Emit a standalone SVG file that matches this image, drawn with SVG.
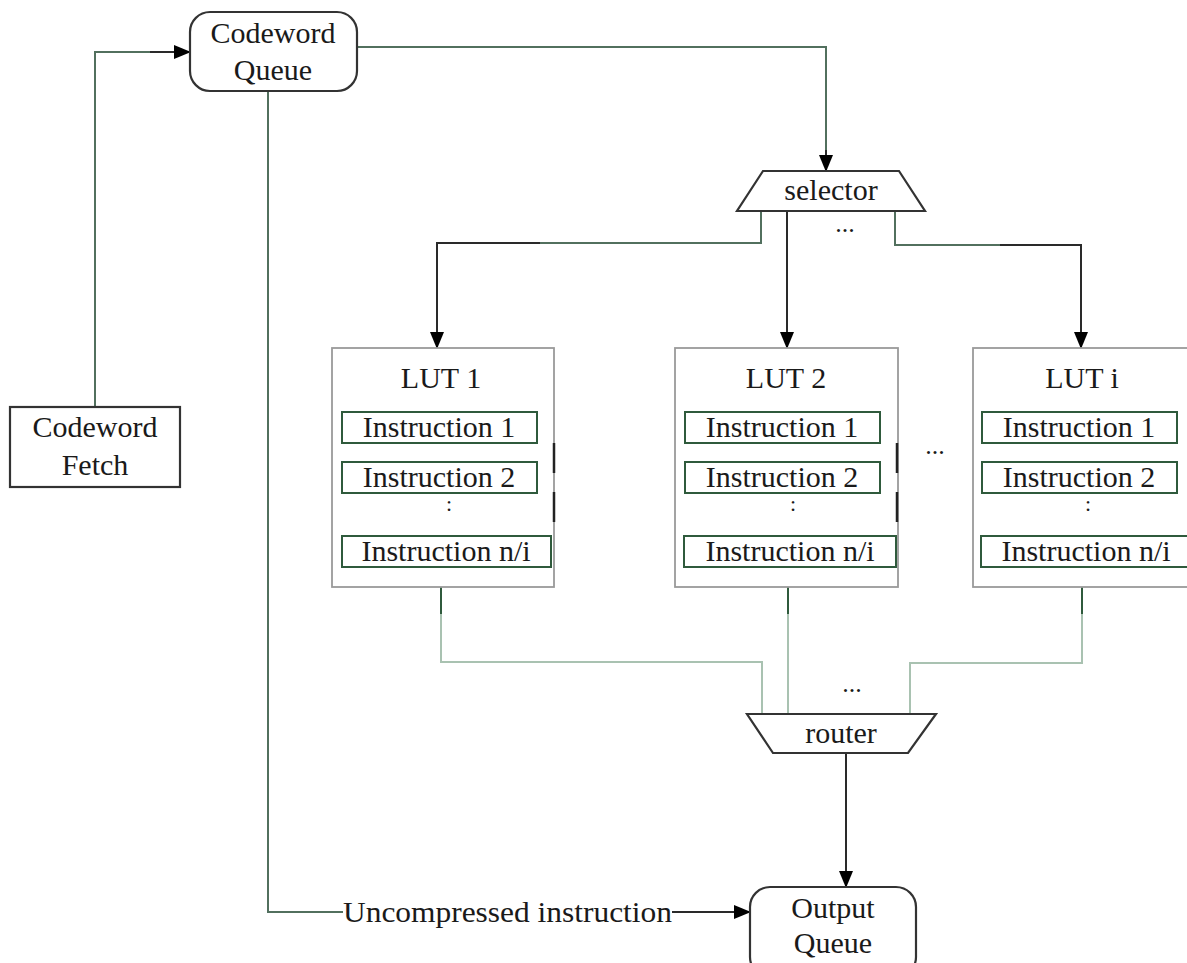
<svg xmlns="http://www.w3.org/2000/svg" width="1187" height="963" viewBox="0 0 1187 963">
<style>
text{font-family:"Liberation Serif","Tinos","Times New Roman","DejaVu Serif",serif;fill:#1a1a1a;font-size:30px}
.c{text-anchor:middle}
.node{fill:#fff;stroke:#333;stroke-width:2.2}
.lut{fill:#fff;stroke:#9a9a9a;stroke-width:1.8}
.ins{fill:#fff;stroke:#2f5a3c;stroke-width:2}
.mark{stroke:#222;stroke-width:2.5}
.g{fill:none;stroke:#52705e;stroke-width:2}
.k{fill:none;stroke:#2a2a2a;stroke-width:2}
.lg{fill:none;stroke:#a9c2b1;stroke-width:2}
.dots{font-size:26px}
.vd{font-size:22px}
</style>
<defs>
<marker id="ah" markerWidth="17" markerHeight="14" refX="16" refY="7" orient="auto" markerUnits="userSpaceOnUse">
<path d="M0,0 L17,7 L0,14 Z" fill="#000"/>
</marker>
</defs>

<g id="connectors">
<path class="g" d="M95,407 V52 H150"/>
<path class="k" d="M150,52 H190" marker-end="url(#ah)"/>
<path class="g" d="M357,47 H826 V150"/>
<path class="k" d="M826,150 V171" marker-end="url(#ah)"/>
<path class="g" d="M761,211 V243 H540"/>
<path class="k" d="M540,243 H437 V348" marker-end="url(#ah)"/>
<path class="k" d="M787,211 V348" marker-end="url(#ah)"/>
<path class="g" d="M895,211 V245 H1000"/>
<path class="k" d="M1000,245 H1081 V348" marker-end="url(#ah)"/>
<path class="lg" d="M441,587 V662 H762 V714"/>
<path class="lg" d="M788,587 V714"/>
<path class="lg" d="M1082,587 V663 H910 V714"/>
<path d="M441,587 V614 M788,587 V614 M1082,587 V614" stroke="#2f5a3c" stroke-width="2"/>
<path class="k" d="M846,753 V887" marker-end="url(#ah)"/>
<path class="g" d="M268,91 V912 H343"/>
<path class="k" d="M672,912 H750" marker-end="url(#ah)"/>
<text x="343" y="922" textLength="329" lengthAdjust="spacingAndGlyphs">Uncompressed instruction</text>
</g>

<g id="codeword-fetch">
<rect class="node" x="10" y="407" width="170" height="80"/>
<text class="c" x="95" y="437">Codeword</text>
<text class="c" x="95" y="475">Fetch</text>
</g>

<g id="codeword-queue">
<rect class="node" x="190" y="12" width="167" height="79" rx="20" ry="20"/>
<text class="c" x="273" y="43">Codeword</text>
<text class="c" x="273" y="80">Queue</text>
</g>

<g id="selector">
<path class="node" d="M763,171 H899 L925,211 H737 Z"/>
<text class="c" x="831" y="200">selector</text>
<text class="c dots" x="845" y="232">...</text>
</g>

<g id="lut1">
<rect class="lut" x="332" y="348" width="222" height="239"/>
<path class="mark" d="M554,443 V473 M554,492 V522"/>
<text class="c" x="441" y="388">LUT 1</text>
<rect class="ins" x="342" y="412" width="195" height="31"/>
<text class="c" x="439" y="437">Instruction 1</text>
<rect class="ins" x="342" y="462" width="195" height="31"/>
<text class="c" x="439" y="487">Instruction 2</text>
<text class="c vd" x="449" y="511">:</text>
<rect class="ins" x="342" y="536" width="209" height="31"/>
<text class="c" x="446" y="561">Instruction n/i</text>
</g>

<g id="lut2">
<rect class="lut" x="675" y="348" width="223" height="239"/>
<path class="mark" d="M897,443 V473 M897,492 V522"/>
<text class="c" x="786" y="388">LUT 2</text>
<rect class="ins" x="685" y="412" width="195" height="31"/>
<text class="c" x="782" y="437">Instruction 1</text>
<rect class="ins" x="685" y="462" width="195" height="31"/>
<text class="c" x="782" y="487">Instruction 2</text>
<text class="c vd" x="793" y="511">:</text>
<rect class="ins" x="684" y="536" width="212" height="31"/>
<text class="c" x="790" y="561">Instruction n/i</text>
</g>

<text class="c dots" x="935" y="454">...</text>

<g id="luti">
<rect class="lut" x="973" y="348" width="240" height="239"/>
<text class="c" x="1082" y="388">LUT i</text>
<rect class="ins" x="982" y="412" width="195" height="31"/>
<text class="c" x="1079" y="437">Instruction 1</text>
<rect class="ins" x="982" y="462" width="195" height="31"/>
<text class="c" x="1079" y="487">Instruction 2</text>
<text class="c vd" x="1088" y="511">:</text>
<rect class="ins" x="981" y="536" width="220" height="31"/>
<text class="c" x="1086" y="561">Instruction n/i</text>
</g>

<g id="router">
<path class="node" d="M747,714 H936 L908,753 H773 Z"/>
<text class="c" x="841" y="743">router</text>
<text class="c dots" x="852" y="692">...</text>
</g>

<g id="output-queue">
<rect class="node" x="750" y="887" width="166" height="90" rx="20" ry="20"/>
<text class="c" x="833" y="918">Output</text>
<text class="c" x="833" y="953">Queue</text>
</g>
</svg>
